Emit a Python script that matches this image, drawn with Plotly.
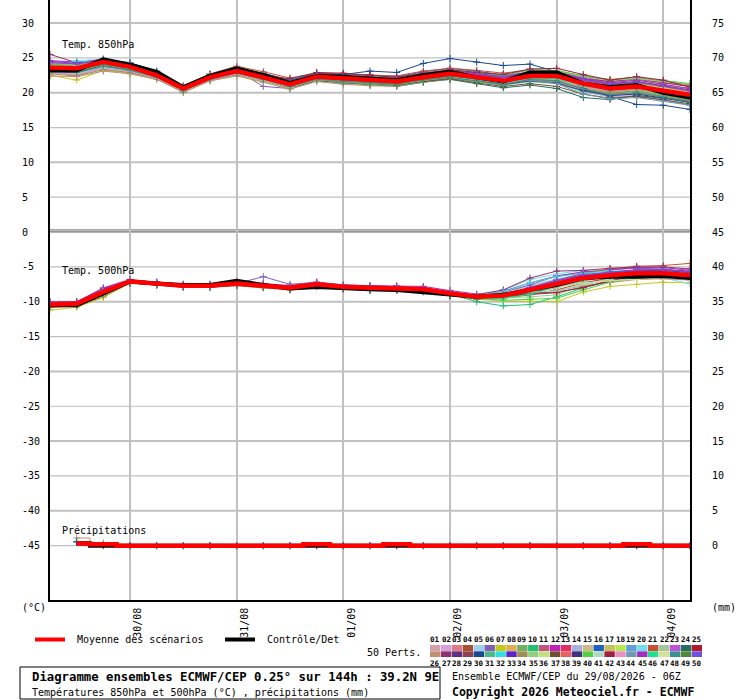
import pandas as pd
import plotly.graph_objects as go

# 6-hourly steps from 29/08/2026 06Z to 04/09/2026 06Z (144h)
times = pd.date_range("2026-08-29 06:00", periods=25, freq="6h")
day_ticks = ["2026-08-30", "2026-08-31", "2026-09-01", "2026-09-02", "2026-09-03", "2026-09-04"]
day_labels = ["30/08", "31/08", "01/09", "02/09", "03/09", "04/09"]

# Temp. 850hPa (°C)
mean_850 = [23.6, 23.5, 24.4, 23.7, 22.5, 20.6, 22.2, 23.1, 22.2, 21.2, 22.3, 22.05, 21.8,
            21.6, 22.2, 22.7, 22.2, 21.7, 22.4, 22.4, 21.3, 20.6, 20.9, 20.3, 19.7]
control_850 = [23.2, 23.2, 24.8, 24.0, 23.0, 20.8, 22.4, 23.5, 22.5, 21.4, 22.4, 22.3, 22.05,
               21.8, 22.5, 23.0, 22.2, 21.6, 22.9, 22.9, 21.3, 20.8, 21.1, 20.0, 19.3]

# Temp. 500hPa (°C)
mean_500 = [-10.4, -10.3, -8.6, -7.1, -7.4, -7.7, -7.7, -7.4, -7.7, -8.0, -7.5, -7.85, -8.0,
            -8.1, -8.2, -8.8, -9.3, -9.1, -8.3, -7.4, -6.6, -6.2, -5.9, -5.9, -6.2]
control_500 = [-10.5, -10.5, -8.8, -7.1, -7.4, -7.6, -7.6, -7.0, -7.6, -8.1, -7.9, -8.1, -8.2,
               -8.3, -8.6, -8.9, -9.3, -9.0, -8.3, -7.6, -6.6, -6.4, -6.4, -6.3, -6.6]

# Précipitations (mm), from 29/08 12Z
mean_precip = [0.3, 0.2, 0, 0, 0, 0, 0, 0, 0, 0.2, 0, 0, 0.2, 0, 0, 0, 0, 0, 0, 0, 0, 0.2, 0, 0]
control_precip = [0.3, 0, 0, 0, 0, 0, 0, 0, 0, 0, 0, 0, 0, 0, 0, 0, 0, 0, 0, 0, 0, 0, 0, 0]
member_precip = {
    26: [1.1, 0.4, 0, 0, 0, 0, 0, 0, 0, 0, 0, 0, 0, 0, 0, 0, 0, 0, 0, 0, 0, 0, 0, 0],
    24: [0.6, 0.1, 0, 0, 0, 0, 0, 0, 0, 0, 0, 0, 0, 0, 0, 0, 0, 0, 0, 0, 0, 0, 0, 0],
    16: [0.5, 0, 0, 0, 0, 0, 0, 0, 0, 0, 0, 0, 0, 0, 0, 0, 0, 0, 0, 0, 0, 0, 0, 0],
}

# 50 perturbed members, 850hPa
members_850 = [
    [23.9, 23.2, 24.1, 23.5, 22.3, 20.5, 22.0, 23.0, 22.4, 21.5, 22.6, 22.3, 22.1, 21.9, 22.5, 23.0, 22.6, 22.0, 22.8, 22.9, 21.9, 21.3, 21.5, 21.0, 20.5],
    [23.2, 22.8, 23.9, 23.3, 22.2, 20.4, 22.1, 23.2, 22.0, 20.9, 22.0, 21.7, 21.4, 21.2, 21.8, 22.3, 21.8, 21.3, 21.9, 21.7, 20.6, 20.0, 20.4, 19.8, 19.1],
    [24.1, 24.0, 24.6, 24.0, 22.8, 20.8, 22.5, 23.4, 22.6, 21.6, 22.4, 22.3, 22.0, 21.8, 22.6, 23.2, 22.7, 22.1, 22.6, 22.2, 21.1, 20.3, 20.6, 20.0, 19.4],
    [23.0, 22.5, 23.6, 23.1, 22.1, 20.3, 21.9, 22.8, 21.9, 20.8, 21.9, 21.6, 21.6, 21.4, 22.0, 22.4, 21.9, 21.5, 22.0, 21.8, 20.5, 19.8, 19.9, 19.5, 18.8],
    [24.4, 24.6, 24.8, 24.2, 23.0, 20.9, 22.6, 23.5, 22.7, 21.8, 22.7, 22.5, 22.4, 22.2, 22.9, 23.4, 23.0, 22.6, 23.2, 23.0, 22.1, 21.5, 21.8, 21.2, 20.6],
    [23.5, 23.8, 24.5, 23.9, 22.6, 20.7, 22.3, 23.2, 20.9, 20.6, 22.2, 21.9, 21.7, 21.5, 22.1, 22.6, 22.0, 21.4, 22.1, 21.9, 20.4, 19.6, 19.4, 19.0, 18.2],
    [22.5, 21.8, 23.2, 22.8, 22.0, 20.0, 21.7, 22.5, 21.6, 20.6, 21.7, 21.3, 21.1, 21.0, 21.6, 22.1, 21.6, 21.1, 21.8, 21.6, 20.8, 20.2, 20.7, 20.1, 19.6],
    [23.8, 23.4, 24.3, 23.6, 22.4, 20.6, 22.2, 23.0, 22.1, 21.0, 22.1, 21.8, 21.5, 21.3, 21.9, 22.5, 22.0, 21.6, 22.5, 22.6, 21.7, 21.1, 21.6, 21.1, 20.6],
    [24.0, 24.2, 24.7, 24.1, 22.9, 20.8, 22.4, 23.3, 22.5, 21.5, 22.5, 22.2, 22.0, 21.9, 22.5, 23.0, 22.5, 22.0, 22.9, 22.8, 21.8, 21.2, 21.4, 20.9, 20.2],
    [23.3, 23.1, 24.2, 23.7, 22.5, 20.5, 22.0, 22.9, 22.0, 21.0, 22.0, 21.7, 21.5, 21.2, 21.7, 22.2, 21.7, 21.2, 21.9, 21.7, 20.5, 19.9, 20.3, 19.7, 19.0],
    [23.7, 23.6, 24.4, 23.8, 22.7, 20.7, 22.3, 23.1, 22.3, 21.4, 22.4, 22.1, 21.8, 21.7, 22.4, 22.9, 22.5, 22.1, 22.7, 22.7, 21.7, 21.1, 21.3, 20.8, 20.3],
    [24.6, 24.4, 24.6, 23.9, 22.6, 20.6, 22.2, 23.2, 22.4, 21.3, 22.3, 22.1, 21.9, 21.6, 22.2, 22.8, 22.3, 21.8, 22.6, 22.5, 21.4, 20.7, 21.0, 20.4, 19.8],
    [23.4, 23.0, 24.0, 23.4, 22.3, 20.4, 22.0, 22.9, 22.1, 21.1, 22.2, 21.9, 21.7, 21.5, 22.1, 22.6, 22.1, 21.7, 22.4, 22.5, 21.5, 20.9, 21.2, 20.7, 20.1],
    [22.8, 22.6, 23.4, 23.0, 22.0, 20.2, 21.8, 22.6, 21.7, 20.7, 21.8, 21.4, 21.3, 21.2, 21.8, 22.2, 21.7, 21.2, 21.8, 21.5, 20.1, 19.4, 19.6, 19.2, 18.6],
    [23.6, 23.3, 24.1, 23.5, 22.4, 20.5, 22.1, 23.0, 22.3, 21.3, 22.4, 22.2, 21.9, 21.8, 22.3, 22.8, 22.4, 21.9, 22.5, 22.3, 21.2, 20.5, 20.8, 20.2, 19.6],
    [24.2, 24.3, 24.8, 24.3, 23.1, 20.9, 22.6, 23.6, 22.8, 21.8, 22.8, 22.6, 22.5, 22.3, 23.0, 23.5, 23.1, 22.5, 22.9, 22.6, 21.4, 20.6, 20.8, 20.2, 19.5],
    [23.1, 22.9, 23.8, 23.2, 22.2, 20.3, 21.9, 22.8, 21.9, 20.9, 22.0, 21.8, 21.6, 21.4, 22.0, 22.5, 22.0, 21.6, 22.3, 22.4, 21.4, 20.8, 21.1, 20.5, 19.9],
    [23.9, 23.7, 24.5, 23.8, 22.6, 20.7, 22.3, 23.2, 22.3, 21.2, 22.3, 22.0, 21.8, 21.6, 22.2, 22.7, 22.3, 21.8, 22.5, 22.5, 21.6, 21.0, 21.3, 20.7, 20.0],
    [23.5, 23.4, 24.3, 23.6, 22.5, 20.6, 22.2, 23.1, 22.2, 21.2, 22.2, 22.0, 21.7, 21.5, 22.1, 22.6, 22.1, 21.6, 22.3, 22.1, 20.9, 20.2, 20.5, 19.9, 19.2],
    [23.0, 22.7, 23.7, 23.2, 22.1, 20.2, 21.8, 22.7, 21.8, 20.8, 21.9, 21.6, 21.4, 21.2, 21.8, 22.3, 21.8, 21.4, 22.1, 22.0, 21.0, 20.4, 20.8, 20.2, 19.6],
    [24.3, 24.1, 24.8, 24.2, 23.0, 21.0, 22.7, 23.8, 23.0, 22.1, 22.8, 22.7, 22.6, 22.4, 23.1, 23.5, 23.2, 22.8, 23.3, 23.1, 22.4, 21.9, 22.2, 21.7, 21.1],
    [23.4, 23.2, 24.2, 23.5, 22.4, 20.5, 22.1, 23.0, 22.1, 21.1, 22.1, 21.8, 21.6, 21.4, 21.9, 22.4, 21.9, 21.4, 22.0, 21.9, 20.8, 20.1, 20.4, 19.8, 19.2],
    [23.8, 23.9, 24.6, 24.0, 22.8, 20.8, 22.5, 23.4, 22.5, 21.4, 22.5, 22.2, 22.0, 21.9, 22.6, 23.1, 22.7, 22.3, 23.0, 23.0, 22.2, 21.6, 21.9, 21.4, 20.9],
    [23.2, 22.9, 23.8, 23.3, 22.3, 20.1, 21.9, 22.7, 21.8, 20.7, 21.7, 21.4, 21.1, 20.9, 21.5, 21.9, 21.3, 20.7, 21.1, 20.6, 19.3, 19.0, 19.6, 19.2, 18.6],
    [23.6, 23.5, 24.4, 23.7, 22.6, 20.6, 22.2, 23.1, 22.3, 21.3, 22.3, 22.1, 21.9, 21.7, 22.3, 22.8, 22.3, 21.9, 22.6, 22.6, 21.6, 21.0, 21.2, 20.6, 19.9],
    [22.4, 22.3, 23.1, 22.7, 21.9, 20.1, 21.7, 22.4, 21.5, 20.5, 21.6, 21.2, 21.0, 20.9, 21.5, 22.0, 21.6, 21.1, 21.8, 21.7, 20.7, 20.1, 20.5, 19.9, 19.3],
    [25.5, 24.3, 24.5, 23.8, 22.6, 20.6, 22.2, 23.1, 22.3, 21.4, 22.5, 22.4, 22.3, 22.1, 22.7, 23.2, 22.8, 22.3, 22.9, 22.8, 21.9, 21.3, 21.6, 21.0, 20.4],
    [23.3, 23.0, 24.0, 23.4, 22.3, 20.4, 22.0, 22.9, 22.0, 21.0, 22.0, 21.7, 21.5, 21.3, 21.9, 22.4, 22.0, 21.5, 22.2, 22.1, 21.0, 20.3, 20.6, 20.0, 19.4],
    [23.7, 23.6, 24.4, 23.8, 22.6, 20.7, 22.3, 23.2, 22.4, 21.4, 22.4, 22.2, 22.0, 21.8, 22.4, 22.9, 22.5, 22.1, 22.8, 22.9, 22.0, 21.6, 22.0, 21.5, 20.9],
    [24.0, 23.8, 24.6, 24.2, 23.0, 20.9, 22.6, 23.5, 22.7, 21.7, 22.7, 22.6, 23.1, 22.9, 24.2, 24.9, 24.4, 23.9, 24.1, 23.0, 20.6, 19.4, 18.3, 18.2, 17.6],
    [23.1, 22.8, 23.8, 23.3, 22.2, 20.2, 21.9, 22.8, 21.9, 20.9, 21.9, 21.5, 21.2, 21.0, 21.6, 22.1, 21.6, 21.1, 21.6, 21.3, 20.2, 19.6, 20.0, 19.5, 18.9],
    [23.9, 24.5, 24.5, 23.9, 22.7, 20.8, 22.4, 23.3, 22.4, 21.4, 22.4, 22.2, 22.0, 21.8, 22.4, 22.9, 22.4, 21.9, 22.6, 22.3, 21.1, 20.4, 20.7, 20.1, 19.4],
    [23.5, 23.3, 24.2, 23.6, 22.5, 20.5, 22.1, 23.0, 22.2, 21.2, 22.3, 22.0, 21.8, 21.6, 22.2, 22.7, 22.2, 21.8, 22.4, 22.3, 21.3, 20.6, 20.9, 20.3, 19.7],
    [22.7, 22.4, 23.3, 22.9, 22.0, 20.2, 21.8, 22.6, 21.8, 20.8, 21.8, 21.5, 21.3, 21.1, 21.7, 22.2, 21.7, 21.2, 21.8, 21.6, 20.5, 19.9, 20.2, 19.6, 18.9],
    [23.6, 23.4, 24.2, 23.6, 22.5, 20.6, 22.2, 23.0, 22.2, 21.2, 22.2, 22.0, 21.8, 21.6, 22.2, 22.7, 22.2, 21.8, 22.7, 23.1, 22.3, 21.8, 22.0, 21.6, 21.2],
    [24.2, 24.0, 24.6, 24.0, 22.8, 20.7, 22.4, 23.3, 22.4, 21.4, 22.4, 22.1, 21.9, 21.7, 22.3, 22.8, 22.3, 21.8, 22.4, 22.2, 21.0, 20.3, 20.6, 20.0, 19.3],
    [23.2, 23.0, 23.9, 23.3, 22.3, 20.4, 22.0, 22.8, 21.9, 20.9, 21.9, 21.6, 21.3, 21.1, 21.6, 22.0, 21.4, 20.9, 21.3, 20.9, 19.8, 19.2, 19.5, 19.0, 18.4],
    [23.8, 23.6, 24.4, 23.8, 22.6, 20.7, 22.3, 23.2, 22.3, 21.3, 22.3, 22.0, 21.8, 21.6, 22.2, 22.7, 22.2, 21.7, 22.3, 22.2, 21.2, 20.5, 20.8, 20.2, 19.5],
    [23.4, 23.1, 24.1, 23.5, 22.4, 20.5, 22.0, 22.9, 22.0, 21.0, 22.0, 21.7, 21.5, 21.3, 21.9, 22.3, 21.8, 21.2, 21.7, 21.4, 20.3, 19.6, 19.8, 19.3, 18.7],
    [24.1, 23.9, 24.7, 24.1, 22.9, 20.8, 22.5, 23.4, 22.6, 21.6, 22.6, 22.4, 22.2, 22.0, 22.7, 23.3, 22.9, 22.4, 23.3, 23.2, 22.4, 21.8, 22.2, 21.7, 21.3],
    [22.9, 22.7, 23.6, 23.1, 22.1, 20.3, 21.9, 22.7, 21.8, 20.8, 21.9, 21.6, 21.4, 21.2, 21.8, 22.3, 21.8, 21.4, 22.1, 22.0, 21.1, 20.5, 20.8, 20.3, 19.7],
    [23.6, 23.5, 24.3, 23.7, 22.5, 20.6, 22.2, 23.0, 22.5, 22.0, 22.9, 22.8, 22.5, 22.2, 22.8, 23.3, 22.9, 22.6, 23.4, 23.5, 22.6, 21.8, 22.3, 21.8, 20.8],
    [23.0, 22.6, 23.6, 23.1, 22.1, 20.2, 21.8, 22.7, 21.9, 20.9, 21.9, 21.6, 21.4, 21.3, 21.9, 22.4, 22.0, 21.5, 22.2, 22.0, 20.9, 20.3, 20.6, 20.0, 19.3],
    [23.7, 23.5, 24.3, 23.7, 22.5, 20.6, 22.2, 23.1, 22.2, 21.2, 22.2, 21.9, 21.7, 21.5, 22.1, 22.5, 21.9, 21.3, 21.8, 21.3, 19.8, 19.1, 19.3, 18.8, 18.2],
    [24.5, 24.2, 24.7, 24.0, 22.7, 20.7, 22.3, 23.2, 22.4, 21.4, 22.5, 22.3, 22.1, 21.9, 22.5, 23.1, 22.7, 22.3, 23.0, 23.0, 22.0, 21.4, 21.8, 21.2, 20.6],
    [23.3, 23.1, 24.0, 23.4, 22.3, 20.4, 22.0, 22.9, 22.0, 21.0, 22.0, 21.7, 21.5, 21.3, 21.9, 22.4, 21.9, 21.4, 22.1, 22.0, 21.0, 20.4, 20.7, 20.1, 19.4],
    [23.9, 23.8, 24.5, 23.9, 22.7, 20.7, 22.3, 23.2, 22.3, 21.3, 22.3, 22.0, 21.8, 21.6, 22.2, 22.7, 22.3, 21.9, 22.6, 22.5, 21.5, 20.9, 21.2, 20.6, 20.0],
    [23.1, 22.9, 23.8, 23.2, 22.2, 20.3, 21.9, 22.8, 21.9, 20.9, 21.9, 21.6, 21.4, 21.2, 21.8, 22.2, 21.7, 21.2, 21.9, 21.7, 20.5, 19.7, 20.0, 19.4, 18.7],
    [23.6, 23.4, 24.2, 23.6, 22.5, 20.6, 22.1, 23.0, 22.1, 21.1, 22.1, 21.8, 21.5, 21.3, 21.9, 22.4, 22.0, 21.6, 22.3, 22.2, 21.2, 20.6, 20.9, 20.3, 19.6],
    [24.3, 24.1, 24.7, 24.1, 22.9, 20.8, 22.4, 23.4, 22.5, 21.5, 22.5, 22.2, 22.0, 21.8, 22.4, 23.0, 22.6, 22.2, 22.9, 22.8, 21.8, 21.2, 21.5, 20.9, 20.3],
]

# 50 perturbed members, 500hPa
members_500 = [
    [-10.2, -10.1, -8.3, -7.0, -7.3, -7.6, -7.6, -7.3, -7.5, -7.8, -7.3, -7.7, -7.8, -7.9, -8.0, -8.6, -9.1, -8.8, -7.8, -6.8, -6.1, -5.8, -5.6, -5.6, -5.9],
    [-10.6, -10.5, -8.9, -7.2, -7.5, -7.8, -7.8, -7.6, -7.9, -8.2, -7.7, -8.0, -8.2, -8.3, -8.4, -9.0, -9.5, -9.4, -8.8, -8.0, -7.2, -6.7, -6.3, -6.3, -6.6],
    [-10.3, -10.2, -8.5, -7.0, -7.4, -7.7, -7.6, -7.3, -7.6, -7.9, -7.4, -7.8, -7.9, -8.0, -8.1, -8.7, -9.2, -9.0, -8.1, -7.1, -6.3, -5.9, -5.6, -5.5, -5.8],
    [-10.8, -10.6, -9.3, -7.3, -7.5, -7.8, -7.9, -7.7, -8.0, -8.3, -7.8, -8.2, -8.4, -8.4, -8.5, -9.1, -9.6, -9.5, -9.0, -8.3, -7.3, -6.6, -6.1, -6.0, -6.3],
    [-10.1, -10.0, -8.1, -6.9, -7.2, -7.5, -7.5, -7.2, -7.4, -7.7, -7.2, -7.6, -7.7, -7.8, -7.9, -8.5, -9.0, -8.7, -7.7, -6.7, -6.0, -5.7, -5.5, -5.6, -6.0],
    [-10.4, -10.3, -8.7, -7.1, -7.4, -7.7, -7.7, -7.4, -6.4, -7.5, -7.2, -7.6, -7.7, -7.8, -8.0, -8.7, -9.3, -8.6, -7.6, -6.3, -5.8, -5.4, -5.2, -5.3, -5.7],
    [-11.2, -10.8, -9.4, -7.3, -7.6, -7.9, -7.9, -7.6, -7.9, -8.3, -7.8, -8.1, -8.3, -8.4, -8.6, -9.1, -9.6, -9.9, -9.9, -10.0, -8.6, -7.8, -7.5, -7.2, -7.3],
    [-10.3, -10.2, -8.4, -7.0, -7.3, -7.6, -7.6, -7.3, -7.6, -7.9, -7.4, -7.8, -7.9, -8.0, -8.1, -8.7, -9.2, -9.0, -8.2, -7.3, -6.5, -6.1, -5.8, -5.8, -6.1],
    [-10.5, -10.4, -8.8, -7.2, -7.5, -7.8, -7.8, -7.5, -7.8, -8.1, -7.6, -8.0, -8.1, -8.2, -8.3, -8.9, -9.4, -9.3, -8.7, -7.9, -7.0, -6.4, -6.0, -6.0, -6.3],
    [-10.2, -10.1, -8.4, -7.1, -7.4, -7.6, -7.6, -7.3, -7.6, -8.0, -7.5, -7.9, -8.0, -8.1, -8.2, -8.9, -10.0, -10.6, -10.4, -9.3, -8.0, -7.1, -6.6, -6.4, -6.6],
    [-10.4, -10.3, -8.6, -7.1, -7.4, -7.7, -7.7, -7.4, -7.7, -8.0, -7.5, -7.9, -8.0, -8.1, -8.2, -8.8, -9.3, -9.1, -8.3, -7.4, -6.6, -6.2, -5.9, -5.9, -6.2],
    [-10.0, -10.0, -8.0, -6.8, -7.2, -7.5, -7.5, -7.2, -7.4, -7.7, -7.2, -7.6, -7.7, -7.7, -7.8, -8.4, -8.9, -8.5, -7.3, -6.3, -5.7, -5.4, -5.1, -5.1, -5.5],
    [-10.6, -10.5, -8.9, -7.2, -7.5, -7.8, -7.8, -7.5, -7.8, -8.1, -7.6, -8.0, -8.2, -8.2, -8.3, -8.9, -9.4, -9.3, -8.6, -7.7, -6.8, -6.3, -6.0, -5.9, -6.2],
    [-10.3, -10.2, -8.5, -7.1, -7.4, -7.7, -7.7, -7.4, -7.7, -8.0, -7.5, -7.9, -8.0, -8.1, -8.2, -8.8, -9.3, -9.2, -8.9, -8.4, -7.6, -6.8, -6.4, -6.2, -6.4],
    [-10.2, -10.1, -8.3, -7.0, -7.3, -7.6, -7.6, -7.3, -7.6, -7.9, -7.4, -7.8, -7.9, -8.0, -8.1, -8.7, -9.2, -9.0, -8.2, -7.2, -6.4, -6.0, -5.7, -5.7, -6.0],
    [-10.5, -10.4, -8.8, -7.2, -7.5, -7.8, -7.8, -7.5, -7.8, -8.2, -7.7, -8.0, -8.2, -8.2, -8.4, -9.0, -9.5, -9.3, -8.5, -7.5, -6.6, -6.1, -5.7, -5.6, -5.9],
    [-10.4, -10.3, -8.6, -7.1, -7.4, -7.7, -7.7, -7.4, -7.7, -8.0, -7.6, -7.9, -8.1, -8.1, -8.2, -8.8, -9.3, -9.1, -8.4, -7.5, -6.7, -6.3, -6.0, -6.0, -6.3],
    [-10.3, -10.2, -8.5, -7.0, -7.4, -7.7, -7.6, -7.3, -7.6, -7.9, -7.4, -7.8, -7.9, -8.0, -8.1, -8.7, -9.2, -9.0, -8.1, -7.1, -6.3, -5.9, -5.6, -5.6, -5.9],
    [-10.6, -10.5, -8.9, -7.3, -7.5, -7.8, -7.8, -7.5, -7.8, -8.1, -7.6, -8.0, -8.2, -8.2, -8.3, -8.9, -9.4, -9.2, -8.5, -7.6, -6.8, -6.3, -6.0, -6.0, -6.3],
    [-10.2, -10.1, -8.3, -7.0, -7.3, -7.6, -7.6, -7.3, -7.6, -7.9, -7.4, -7.8, -7.9, -8.0, -8.1, -8.6, -9.0, -8.4, -6.8, -6.0, -5.5, -5.6, -6.0, -6.6, -7.4],
    [-10.5, -10.4, -8.7, -7.1, -7.5, -7.8, -7.8, -7.5, -7.8, -8.1, -7.7, -8.1, -8.3, -8.3, -8.4, -9.0, -9.4, -9.0, -8.0, -6.9, -5.9, -5.3, -4.9, -4.8, -4.5],
    [-10.3, -10.2, -8.5, -7.1, -7.4, -7.7, -7.7, -7.4, -7.7, -8.0, -7.5, -7.9, -8.0, -8.1, -8.2, -8.8, -9.3, -9.1, -8.3, -7.4, -6.6, -6.2, -5.9, -5.9, -6.2],
    [-10.4, -10.3, -8.6, -7.1, -7.4, -7.7, -7.7, -7.4, -7.7, -8.0, -7.5, -7.9, -8.0, -8.1, -8.2, -8.8, -9.3, -9.0, -8.0, -7.0, -6.2, -5.8, -5.5, -5.4, -5.6],
    [-10.6, -10.5, -9.0, -7.3, -7.6, -7.9, -7.9, -7.6, -7.9, -8.2, -7.7, -8.1, -8.3, -8.3, -8.5, -9.1, -9.6, -9.4, -8.7, -7.8, -6.9, -6.4, -6.1, -6.1, -6.4],
    [-10.2, -10.1, -8.2, -6.9, -7.3, -7.6, -7.6, -7.3, -7.6, -7.9, -7.4, -7.8, -7.9, -8.0, -8.1, -8.7, -9.2, -9.1, -8.4, -7.5, -6.5, -5.9, -5.5, -5.4, -5.7],
    [-10.4, -10.3, -8.6, -7.1, -7.4, -7.7, -7.7, -7.4, -7.7, -8.0, -7.5, -7.9, -8.0, -8.1, -8.2, -8.8, -9.4, -9.3, -8.9, -8.4, -7.7, -7.2, -6.8, -6.7, -6.9],
    [-10.1, -10.0, -8.2, -6.9, -7.2, -7.5, -7.5, -7.2, -7.5, -7.8, -7.3, -7.7, -7.8, -7.9, -8.0, -8.6, -9.0, -8.3, -6.6, -5.6, -5.5, -5.2, -5.0, -5.0, -5.3],
    [-10.5, -10.4, -8.8, -7.2, -7.5, -7.8, -7.8, -7.5, -7.8, -8.1, -7.6, -8.0, -8.1, -8.2, -8.3, -8.9, -9.4, -9.2, -8.5, -7.6, -6.7, -6.2, -5.8, -5.8, -6.1],
    [-10.3, -10.2, -8.5, -7.0, -7.4, -7.7, -7.7, -7.4, -7.7, -8.0, -7.5, -7.9, -8.0, -8.1, -8.2, -8.8, -9.3, -9.2, -8.8, -8.6, -8.0, -6.9, -6.2, -6.1, -6.3],
    [-10.4, -10.3, -8.6, -7.1, -7.4, -7.7, -7.7, -7.4, -7.7, -8.0, -7.5, -7.9, -8.0, -8.1, -8.2, -8.8, -9.3, -9.1, -8.3, -7.4, -6.6, -6.2, -5.9, -5.9, -6.2],
    [-10.2, -10.1, -8.4, -7.0, -7.3, -7.6, -7.6, -7.3, -7.6, -7.9, -7.4, -7.8, -7.9, -8.0, -8.1, -8.7, -9.2, -9.0, -8.2, -7.2, -6.4, -6.0, -5.8, -5.8, -6.1],
    [-10.3, -10.2, -8.5, -7.0, -7.4, -7.7, -7.6, -7.3, -7.6, -7.9, -7.4, -7.8, -7.9, -8.0, -8.1, -8.7, -9.1, -8.6, -7.3, -6.4, -5.9, -5.6, -5.5, -5.6, -6.0],
    [-10.5, -10.4, -8.8, -7.2, -7.5, -7.8, -7.8, -7.5, -7.8, -8.1, -7.6, -8.0, -8.1, -8.2, -8.3, -8.9, -9.4, -9.2, -8.4, -7.4, -6.5, -6.0, -5.7, -5.7, -6.0],
    [-10.4, -10.3, -8.6, -7.1, -7.4, -7.7, -7.7, -7.4, -7.7, -8.0, -7.5, -7.9, -8.0, -8.1, -8.2, -8.8, -9.3, -9.1, -8.5, -7.7, -6.9, -6.4, -6.1, -6.1, -6.4],
    [-10.2, -10.1, -8.4, -7.0, -7.3, -7.6, -7.6, -7.3, -7.6, -7.9, -7.4, -7.8, -7.9, -8.0, -8.1, -8.7, -9.4, -9.4, -9.3, -9.0, -7.6, -6.7, -6.3, -6.2, -6.4],
    [-10.3, -10.2, -8.5, -7.1, -7.4, -7.7, -7.7, -7.4, -7.7, -8.0, -7.5, -7.9, -8.0, -8.1, -8.2, -8.8, -9.3, -9.1, -8.3, -7.3, -6.5, -6.1, -5.8, -5.8, -6.1],
    [-10.6, -10.5, -8.9, -7.3, -7.6, -7.9, -7.9, -7.6, -7.9, -8.2, -7.7, -8.1, -8.3, -8.3, -8.4, -9.0, -9.5, -9.3, -8.6, -7.7, -6.8, -6.3, -5.9, -5.9, -6.2],
    [-10.4, -10.3, -8.6, -7.1, -7.4, -7.7, -7.7, -7.4, -7.7, -8.0, -7.5, -7.9, -8.0, -8.1, -8.2, -8.8, -9.2, -8.9, -8.0, -7.1, -6.3, -6.0, -5.7, -5.7, -6.0],
    [-10.5, -10.4, -8.7, -7.2, -7.5, -7.8, -7.8, -7.5, -7.8, -8.1, -7.6, -8.0, -8.2, -8.2, -8.3, -8.9, -9.4, -9.1, -8.2, -7.2, -6.3, -5.8, -5.5, -5.5, -5.8],
    [-10.3, -10.2, -8.5, -7.0, -7.4, -7.7, -7.6, -7.3, -7.6, -7.9, -7.4, -7.8, -8.0, -8.1, -8.2, -8.8, -9.5, -9.8, -9.6, -9.5, -8.3, -7.2, -6.6, -6.4, -6.5],
    [-10.4, -10.3, -8.6, -7.1, -7.4, -7.7, -7.7, -7.4, -7.7, -8.0, -7.5, -7.9, -8.0, -8.1, -8.2, -8.8, -9.3, -9.1, -8.6, -8.5, -7.5, -6.8, -6.4, -6.3, -6.5],
    [-10.5, -10.4, -8.7, -7.2, -7.5, -7.8, -7.8, -7.5, -7.8, -8.1, -7.6, -8.0, -8.1, -8.2, -8.3, -8.9, -9.4, -9.2, -8.9, -8.7, -7.9, -7.0, -6.2, -5.9, -6.0],
    [-10.3, -10.2, -8.5, -7.0, -7.4, -7.7, -7.6, -7.3, -7.6, -7.9, -7.4, -7.8, -7.9, -8.0, -8.1, -8.7, -9.2, -9.0, -8.2, -7.3, -6.5, -6.1, -5.8, -5.8, -6.1],
    [-10.4, -10.3, -8.6, -7.1, -7.4, -7.7, -7.7, -7.4, -7.7, -8.0, -7.5, -7.9, -8.0, -8.1, -8.2, -8.8, -9.3, -9.1, -8.3, -7.4, -6.6, -6.2, -5.9, -5.9, -6.2],
    [-10.2, -10.1, -8.3, -7.0, -7.3, -7.6, -7.6, -7.3, -7.5, -7.8, -7.3, -7.7, -7.9, -8.0, -8.1, -8.8, -9.5, -9.2, -8.1, -7.0, -6.2, -5.8, -5.5, -5.4, -5.7],
    [-10.6, -10.5, -8.9, -7.2, -7.5, -7.8, -7.8, -7.5, -7.8, -8.1, -7.6, -8.0, -8.2, -8.2, -8.3, -8.9, -9.5, -9.6, -8.9, -7.9, -6.9, -6.3, -5.9, -5.8, -6.0],
    [-10.3, -10.2, -8.5, -7.0, -7.4, -7.7, -7.7, -7.4, -7.7, -8.0, -7.5, -7.9, -8.0, -8.1, -8.2, -8.8, -9.3, -9.1, -8.5, -7.9, -7.3, -7.0, -6.8, -6.5, -6.6],
    [-10.4, -10.3, -8.6, -7.1, -7.4, -7.7, -7.7, -7.4, -7.7, -8.0, -7.5, -7.9, -8.0, -8.1, -8.2, -8.8, -9.3, -9.1, -8.4, -7.5, -6.7, -6.3, -6.0, -6.0, -6.3],
    [-10.5, -10.4, -8.7, -7.2, -7.5, -7.8, -7.8, -7.5, -7.8, -8.1, -7.6, -8.0, -8.1, -8.2, -8.3, -8.9, -9.4, -9.2, -8.4, -7.4, -6.5, -6.1, -5.8, -5.8, -6.1],
    [-10.2, -10.1, -8.4, -7.0, -7.3, -7.6, -7.6, -7.3, -7.6, -7.9, -7.4, -7.8, -7.9, -8.0, -8.1, -8.7, -9.2, -9.0, -8.0, -6.9, -6.1, -5.7, -5.4, -5.4, -5.7],
]

member_colors = [
    "#d4a0a8", "#d4a0e0", "#e07a88", "#a85030", "#a0d0f0", "#8060b8", "#c8c820", "#e0b050",
    "#70b060", "#20c070", "#c85080", "#c020b8", "#e03060", "#a8b0e0", "#d0b888", "#2060c0",
    "#c8c060", "#b8e850", "#60a0d8", "#70e0f0", "#c85030", "#a0c898", "#c050d8", "#207060",
    "#b01830", "#c09070", "#903070", "#603080", "#904050", "#184890", "#50b888", "#30e0e0",
    "#6020d0", "#a09050", "#90d080", "#c0e080", "#705030", "#e86060", "#403080", "#50d040",
    "#b0d8c0", "#a02040", "#e890c8", "#7098b0", "#a030c0", "#20e090", "#d8e098", "#389090",
    "#508838", "#7050e0",
]

left_ticks = list(range(-45, 31, 5))
right_ticks = list(range(0, 76, 5))

# page geometry (pixels) used to place the decorations around the plot
W, H = 740, 700
ML, MR, MT, MB = 50, 50, 0, 100
FONT = "DejaVu Sans Mono"


def px(x):
    return (x - ML) / (W - ML - MR)


def py(y):
    return (H - MB - y) / (H - MT - MB)


fig = go.Figure()

for i in range(50):
    c = member_colors[i]
    for series in (members_850[i], members_500[i]):
        fig.add_trace(go.Scatter(
            x=times, y=series, mode="lines+markers",
            line=dict(color=c, width=1),
            marker=dict(symbol="cross-thin", size=5, line=dict(color=c, width=1)),
        ))

for m, vals in member_precip.items():
    c = member_colors[m - 1]
    fig.add_trace(go.Scatter(
        x=times[1:], y=vals, yaxis="y2", mode="lines+markers", line_shape="hvh",
        line=dict(color=c, width=1),
        marker=dict(symbol="cross-thin", size=5, line=dict(color=c, width=1)),
    ))

# control / det
for series in (control_850, control_500):
    fig.add_trace(go.Scatter(x=times, y=series, mode="lines", line=dict(color="black", width=4)))
fig.add_trace(go.Scatter(x=times[1:], y=control_precip, yaxis="y2", mode="lines",
                         line_shape="hvh", line=dict(color="black", width=4)))

# ensemble mean
for series in (mean_850, mean_500):
    fig.add_trace(go.Scatter(x=times, y=series, mode="lines", line=dict(color="red", width=4.5)))
fig.add_trace(go.Scatter(x=times[1:], y=mean_precip, yaxis="y2", mode="lines",
                         line_shape="hvh", line=dict(color="red", width=4.5)))

shapes = []
for v in left_ticks:
    shapes.append(dict(type="line", xref="paper", x0=0, x1=1, yref="y", y0=v, y1=v,
                       line=dict(color="#c0c0c0", width=2 if v % 10 == 0 else 1.2), layer="below"))
# panel separator
shapes.append(dict(type="line", xref="paper", x0=0, x1=1, yref="y", y0=0.2, y1=0.2,
                   line=dict(color="#8a8a8a", width=3), layer="below"))
shapes.append(dict(type="line", xref="paper", x0=0, x1=1, yref="y", y0=0.2, y1=0.2,
                   line=dict(color="#c8c8c8", width=1), layer="below"))

annotations = []
for v in left_ticks:
    annotations.append(dict(x=px(20), y=v, xref="paper", yref="y", text=str(v), showarrow=False,
                            xanchor="left", yanchor="middle", font=dict(family=FONT, size=10, color="black")))
for v in right_ticks:
    annotations.append(dict(x=px(710), y=v, xref="paper", yref="y2", text=str(v), showarrow=False,
                            xanchor="left", yanchor="middle", font=dict(family=FONT, size=10, color="black")))


def label(x, y, text, size=10, anchor="left"):
    annotations.append(dict(x=px(x), y=py(y), xref="paper", yref="paper", text=text, showarrow=False,
                            xanchor=anchor, yanchor="middle", font=dict(family=FONT, size=size, color="black")))


label(60, 45, "Temp. 850hPa")
label(60, 270, "Temp. 500hPa")
label(60, 530, "Précipitations")
label(20, 607, "(°C)")
label(710, 607, "(mm)")

# legend
shapes.append(dict(type="line", xref="paper", yref="paper", x0=px(35), x1=px(65), y0=py(639.5), y1=py(639.5),
                   line=dict(color="red", width=4)))
label(75, 639, "Moyenne des scénarios")
shapes.append(dict(type="line", xref="paper", yref="paper", x0=px(225), x1=px(255), y0=py(639.5), y1=py(639.5),
                   line=dict(color="black", width=4)))
label(265, 639, "Contrôle/Det")
label(423, 652, "50 Perts.", anchor="right")

for i in range(25):
    x0 = 430 + i * 10.9
    for row, (y0, y1) in enumerate(((645, 651), (651.3, 657))):
        shapes.append(dict(type="rect", xref="paper", yref="paper", x0=px(x0), x1=px(x0 + 10.4),
                           y0=py(y1), y1=py(y0), line=dict(width=0),
                           fillcolor=member_colors[i + 25 * row]))
    label(x0 + 5.2, 639.5, "<b>%02d</b>" % (i + 1), size=7.5, anchor="center")
    label(x0 + 5.2, 663, "<b>%02d</b>" % (i + 26), size=7.5, anchor="center")

# footer
shapes.append(dict(type="rect", xref="paper", yref="paper", x0=px(20), x1=px(440), y0=py(699), y1=py(667),
                   line=dict(color="black", width=1), fillcolor="white"))
label(30, 676.5, "<b>Diagramme ensembles ECMWF/CEP 0.25° sur 144h : 39.2N 9E</b>", size=12.3)
label(30, 692, "Températures 850hPa et 500hPa (°C) , précipitations (mm)")
label(450, 676, "Ensemble ECMWF/CEP du 29/08/2026 - 06Z")
label(450, 692, "<b>Copyright 2026 Meteociel.fr - ECMWF</b>", size=11.5)

fig.update_layout(
    width=W, height=H,
    margin=dict(l=ML, r=MR, t=MT, b=MB),
    plot_bgcolor="white", paper_bgcolor="white",
    showlegend=False,
    xaxis=dict(range=[times[0], times[-1]], tickvals=day_ticks, ticktext=day_labels, tickangle=-90,
               showgrid=True, gridcolor="#c0c0c0", gridwidth=1.5, ticks="",
               showline=True, linecolor="black", linewidth=1.5, zeroline=False,
               tickfont=dict(family=FONT, size=10, color="black"),
               ticklabelshift=8, ticklabelstandoff=2),
    yaxis=dict(range=[-52.8, 33.3], showgrid=False, showticklabels=False, zeroline=False,
               showline=True, linecolor="black", linewidth=1.5, ticks=""),
    yaxis2=dict(range=[-7.8, 78.3], overlaying="y", side="right", showgrid=False,
                showticklabels=False, zeroline=False, showline=True, linecolor="black",
                linewidth=1.5, ticks=""),
    shapes=shapes,
    annotations=annotations,
)

# the page body has a default 8px margin; drop it so the figure fills the window
fig.write_html("out.html", config={"displayModeBar": False},
               post_script="document.body.style.margin='0';")
